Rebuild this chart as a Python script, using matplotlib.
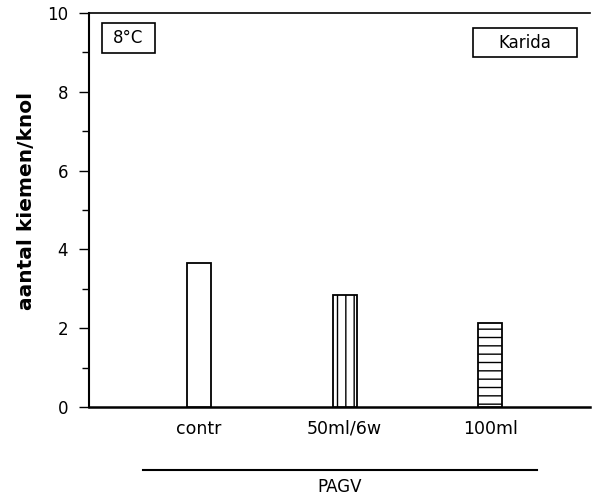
import matplotlib
matplotlib.use("Agg")
import matplotlib.pyplot as plt
from matplotlib.lines import Line2D
from matplotlib.patches import Rectangle

categories = ["contr", "50ml/6w", "100ml"]
values = [3.65, 2.84, 2.13]
hatches = ["", "||", "--"]
yticks = [0, 2, 4, 6, 8, 10]

plt.rcParams["font.family"] = ["DejaVu Sans"]
plt.rcParams["hatch.linewidth"] = 1.0

fig = plt.figure(figsize=(5.98, 5.01), dpi=100)
ax = fig.add_axes([0.1488, 0.1876, 0.8378, 0.7864])

x = list(range(len(categories)))
ax.bar(x, values, width=0.165, color="white", edgecolor="black",
       linewidth=1.3, hatch=hatches, zorder=3)

ax.set_xlim(-0.755, 2.683)
ax.set_ylim(0, 10)
ax.set_yticks(yticks)
ax.set_yticks(range(1, 10, 2), minor=True)
ax.set_xticks(x)
ax.set_xticklabels(categories, fontsize=12.5)
ax.tick_params(axis="x", length=0, pad=9)
ax.tick_params(axis="y", which="major", direction="out", length=7, width=1, labelsize=12, pad=8)
ax.tick_params(axis="y", which="minor", direction="out", length=5, width=1)

ax.spines["right"].set_visible(False)
ax.spines["left"].set_linewidth(1.5)
ax.spines["bottom"].set_linewidth(1.8)
ax.spines["top"].set_linewidth(1.2)

fig.text(0.044, 1 - 201 / 501, "aantal kiemen/knol", rotation=90, ha="center", va="center",
         fontsize=14.5, fontweight="bold")

# condition labels in boxes (axes-fraction coordinates)
def boxed_label(x0, y0, x1, y1, text):
    ax.add_patch(Rectangle((x0, y0), x1 - x0, y1 - y0, transform=ax.transAxes,
                           facecolor="white", edgecolor="black", linewidth=1.2,
                           zorder=4, clip_on=False))
    ax.text((x0 + x1) / 2, (y0 + y1) / 2, text, transform=ax.transAxes,
            ha="center", va="center", fontsize=12, zorder=5)

boxed_label(0.026, 0.898, 0.132, 0.975, "8°C")
boxed_label(0.766, 0.888, 0.974, 0.962, "Karida")

# group bracket under the treatments
fig.add_artist(Line2D([143 / 598, 537 / 598], [1 - 470 / 501, 1 - 470 / 501],
                      color="black", linewidth=1.5))
fig.text(340 / 598, 1 - 487 / 501, "PAGV", ha="center", va="center", fontsize=12)

fig.savefig("out.png", dpi=100)
